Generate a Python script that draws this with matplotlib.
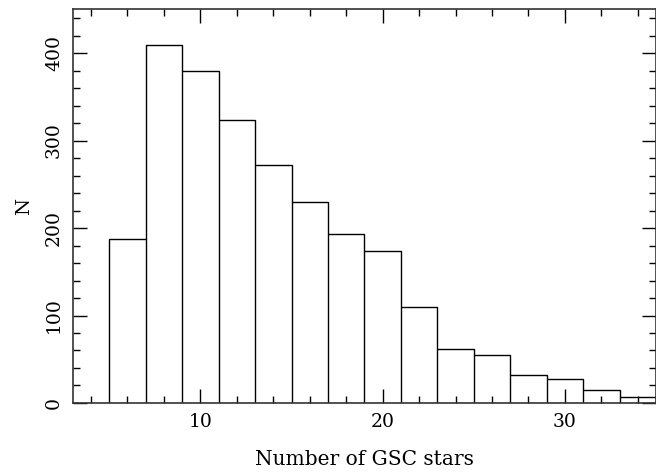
import matplotlib
matplotlib.use("Agg")
import matplotlib.pyplot as plt
from matplotlib.ticker import MultipleLocator

# histogram bin edges and counts
bin_edges = [5, 7, 9, 11, 13, 15, 17, 19, 21, 23, 25, 27, 29, 31, 33, 35]
counts = [187, 409, 380, 323, 272, 230, 193, 174, 110, 62, 55, 32, 27, 15, 7]

plt.rcParams['font.family'] = ['DejaVu Serif']

fig = plt.figure(figsize=(6.56, 4.75), dpi=100)
ax = fig.add_axes([0.111, 0.1516, 0.889, 0.8288])

ax.stairs(counts, bin_edges, fill=False, color='black', linewidth=1.0)
# vertical lines between bars
ax.vlines(bin_edges[1:-1], 0, [min(a, b) for a, b in zip(counts[:-1], counts[1:])],
          color='black', linewidth=1.0)

ax.set_xlim(3, 35)
ax.set_ylim(0, 450)
ax.xaxis.set_major_locator(MultipleLocator(10))
ax.xaxis.set_minor_locator(MultipleLocator(2))
ax.yaxis.set_major_locator(MultipleLocator(100))
ax.yaxis.set_minor_locator(MultipleLocator(20))
ax.tick_params(which='both', direction='in', top=True, right=True, width=1.0, labelsize=13.5)
ax.tick_params(which='major', length=10, pad=7)
ax.tick_params(which='minor', length=5)
for lab in ax.get_yticklabels():
    lab.set_rotation(90)
    lab.set_va('center')
for s in ax.spines.values():
    s.set_linewidth(1.2)
    s.set_color('#333333')

ax.set_xlabel("Number of GSC stars", fontsize=14.5, labelpad=14)
ax.set_ylabel("N", fontsize=14, labelpad=9)

fig.savefig("out.png", dpi=100)
